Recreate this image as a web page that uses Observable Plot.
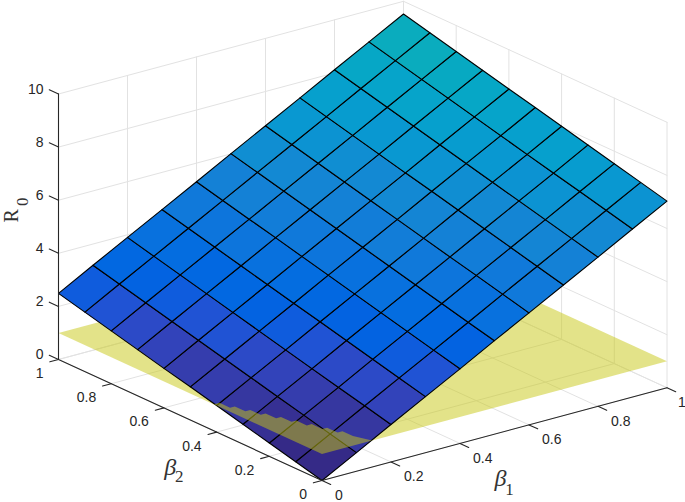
<!DOCTYPE html>
<html>
<head>
<meta charset="utf-8">
<script src="https://cdn.jsdelivr.net/npm/d3@7"></script>
<script src="https://cdn.jsdelivr.net/npm/@observablehq/plot@0.6"></script>
<style>html,body{margin:0;padding:0;background:#fff}svg{display:block}</style>
</head>
<body>
<div id="chart"></div>
<script>
// Axis values
const beta1 = [0,0.1,0.2,0.3,0.4,0.5,0.6,0.7,0.8,0.9,1];
const beta2 = [0,0.1,0.2,0.3,0.4,0.5,0.6,0.7,0.8,0.9,1];
const horizontalTicks = [0,0.2,0.4,0.6,0.8,1];
const zTicks = [0,2,4,6,8,10];

// R0: rows are beta2, columns are beta1
const r0 = [
  [0.00,0.70,1.41,2.11,2.81,3.52,4.22,4.92,5.62,6.33,7.03],
  [0.25,0.95,1.66,2.36,3.06,3.76,4.47,5.17,5.87,6.58,7.28],
  [0.50,1.20,1.90,2.61,3.31,4.01,4.72,5.42,6.12,6.83,7.53],
  [0.75,1.45,2.15,2.86,3.56,4.26,4.96,5.67,6.37,7.07,7.78],
  [1.00,1.70,2.40,3.11,3.81,4.51,5.21,5.92,6.62,7.32,8.03],
  [1.25,1.95,2.65,3.35,4.06,4.76,5.46,6.17,6.87,7.57,8.28],
  [1.49,2.20,2.90,3.60,4.31,5.01,5.71,6.41,7.12,7.82,8.52],
  [1.74,2.45,3.15,3.85,4.56,5.26,5.96,6.66,7.37,8.07,8.77],
  [1.99,2.70,3.40,4.10,4.80,5.51,6.21,6.91,7.62,8.32,9.02],
  [2.24,2.95,3.65,4.35,5.05,5.76,6.46,7.16,7.87,8.57,9.27],
  [2.49,3.20,3.90,4.60,5.30,6.01,6.71,7.41,8.12,8.82,9.52]
];

// The threshold plane R0 = 1
const planeLevel = 1;
const planeB1 = [0,1,1,0];
const planeB2 = [0,0,1,1];

// Where the threshold plane lies above the surface (stepped edge of its mesh)
const frontB1 = [0,0.016,0.016,0.030,0.030,0.044,0.044,0.058,0.058,0.072,0.072,0.086,0.086,0.100,0.100,0.114,0.114,0.128,0.128,0.145,0];
const frontB2 = [0.41,0.41,0.37,0.37,0.33,0.33,0.29,0.29,0.25,0.25,0.21,0.21,0.17,0.17,0.13,0.13,0.09,0.09,0.05,0.0,0];

// Colormap (parula)
const parula = ["#352a87","#363093","#3637a0","#353dad","#3243ba","#2c4ac7","#2053d4","#0f5cdd","#0363e1","#0268e1","#046de0","#0871de","#0d75dc","#1079da","#127dd8","#1481d6","#1485d4","#1389d3","#108ed2","#0c93d2","#0998d1","#079ccf","#06a0cd","#06a4ca","#06a7c6","#07a9c2","#0aacbe","#0faeb9","#15b1b4","#1db3af","#25b5a9","#2eb7a4","#38b99e","#42bb98"];
const colorStep = 0.32;
const colorThresholds = parula.slice(1).map((_, i) => (i + 1) * colorStep);

// View of the 3D box
const viewX = (b1, b2) => 345 * b1 - 263.5 * b2;
const viewY = (b1, b2, z) => 92.7 * b1 + 121 * b2 + 26.55 * z;
const vertex = (key, b1, b2, z) => ({key, x: viewX(b1, b2), y: viewY(b1, b2, z)});
const path = (key, pts) => pts.map(([a, b, z]) => vertex(key, a, b, z));

// Tables built from the arrays
const cells = [];
for (let j = 0; j < beta2.length - 1; j++) {
  for (let i = 0; i < beta1.length - 1; i++) {
    const key = `c${i}-${j}`;
    const zs = [r0[j][i], r0[j][i+1], r0[j+1][i+1], r0[j+1][i]];
    const value = zs[0]; // a flat face takes the colour of its first vertex
    cells.push({key, value, ...vertex(key, beta1[i], beta2[j], zs[0])});
    cells.push({key, value, ...vertex(key, beta1[i+1], beta2[j], zs[1])});
    cells.push({key, value, ...vertex(key, beta1[i+1], beta2[j+1], zs[2])});
    cells.push({key, value, ...vertex(key, beta1[i], beta2[j+1], zs[3])});
  }
}
const zMax = zTicks[zTicks.length-1];
const grid = [];
horizontalTicks.forEach(t => {
  grid.push(path(`f1${t}`, [[t,0,0],[t,1,0],[t,1,zMax]]));
  grid.push(path(`f2${t}`, [[0,t,0],[1,t,0],[1,t,zMax]]));
});
zTicks.forEach(z => grid.push(path(`w${z}`, [[0,1,z],[1,1,z],[1,0,z]])));
const gridData = grid.flat();

const plane = planeB1.map((b, i) => vertex("plane", b, planeB2[i], planeLevel));
const front = frontB1.map((b, i) => vertex("front", b, frontB2[i], planeLevel));

const axes = [
  ...path("axZ", [[0,1,0],[0,1,zMax]]),
  ...path("axB2", [[0,0,0],[0,1,0]]),
  ...path("axB1", [[0,0,0],[1,0,0]])
];
const ticks = [
  ...horizontalTicks.flatMap(t => path(`tb1${t}`, [[t,0,0],[t,-0.033,0]])),
  ...horizontalTicks.flatMap(t => path(`tb2${t}`, [[0,t,0],[-0.025,t,0]])),
  ...zTicks.flatMap(z => path(`tz${z}`, [[0,1,z],[0,1.035,z]]))
];

const lab1 = horizontalTicks.map(t => ({...vertex("", t, 0, 0), t: String(t)}));
const lab2 = horizontalTicks.map(t => ({...vertex("", 0, t, 0), t: String(t)}));
const labZ = zTicks.map(z => ({...vertex("", 0, 1, z), t: String(z)}));
const sans = "Liberation Sans, Arial, sans-serif";
const serif = "Liberation Serif, Times New Roman, serif";
const ink = "#262626";
const tickText = (data, o) => Plot.text(data, {x:"x", y:"y", text:"t", fill:ink, fontFamily:sans, fontSize:14, ...o});
const axisTitle = (txt, b1, b2, z, o) => Plot.text([vertex("", b1, b2, z)], {x:"x", y:"y", text:() => txt, fill:"#333", fontFamily:serif, ...o});

const chart = Plot.plot({
  width: 685, height: 502,
  marginTop: 0, marginRight: 0, marginBottom: 0, marginLeft: 0,
  x: {domain: [-321.5, 363.5], range: [0, 685], axis: null},
  y: {domain: [-22, 480], range: [502, 0], axis: null},
  color: {type: "threshold", domain: colorThresholds, range: parula},
  marks: [
    Plot.line(gridData, {x:"x", y:"y", z:"key", stroke:"#e2e2e2", strokeWidth:1}),
    Plot.line(plane, {x:"x", y:"y", z:"key", curve:"linear-closed", fill:"#c8c814", fillOpacity:0.5, stroke:"none"}),
    Plot.line(cells, {x:"x", y:"y", z:"key", curve:"linear-closed", fill:"value", stroke:"#000", strokeWidth:1.1, strokeLinejoin:"round"}),
    Plot.line(front, {x:"x", y:"y", z:"key", curve:"linear-closed", fill:"#c8c814", fillOpacity:0.5, stroke:"none"}),
    Plot.line(axes, {x:"x", y:"y", z:"key", stroke:ink, strokeWidth:1.1}),
    Plot.line(ticks, {x:"x", y:"y", z:"key", stroke:ink, strokeWidth:1.1}),
    tickText(lab1.slice(0, -1), {textAnchor:"start", dx:13, dy:15}),
    tickText(lab1.slice(-1), {textAnchor:"start", dx:11, dy:15}),
    tickText(lab2, {textAnchor:"end", dx:-15, dy:14}),
    tickText(labZ, {textAnchor:"end", dx:-15, dy:-4.7}),
    axisTitle("β", 0, 0.5, 0, {dx:-20, dy:47, fontSize:24, fontStyle:"italic"}),
    axisTitle("2", 0, 0.5, 0, {dx:-11, dy:57, fontSize:17}),
    axisTitle("β", 0.5, 0, 0, {dx:6, dy:44, fontSize:24, fontStyle:"italic"}),
    axisTitle("1", 0.5, 0, 0, {dx:15, dy:55, fontSize:17}),
    axisTitle("R", 0, 1, 5, {dx:-47, dy:-11, fontSize:20, rotate:-90}),
    axisTitle("0", 0, 1, 5, {dx:-36, dy:-25, fontSize:17, rotate:-90})
  ]
});
document.getElementById("chart").append(chart);
</script>
</body>
</html>
